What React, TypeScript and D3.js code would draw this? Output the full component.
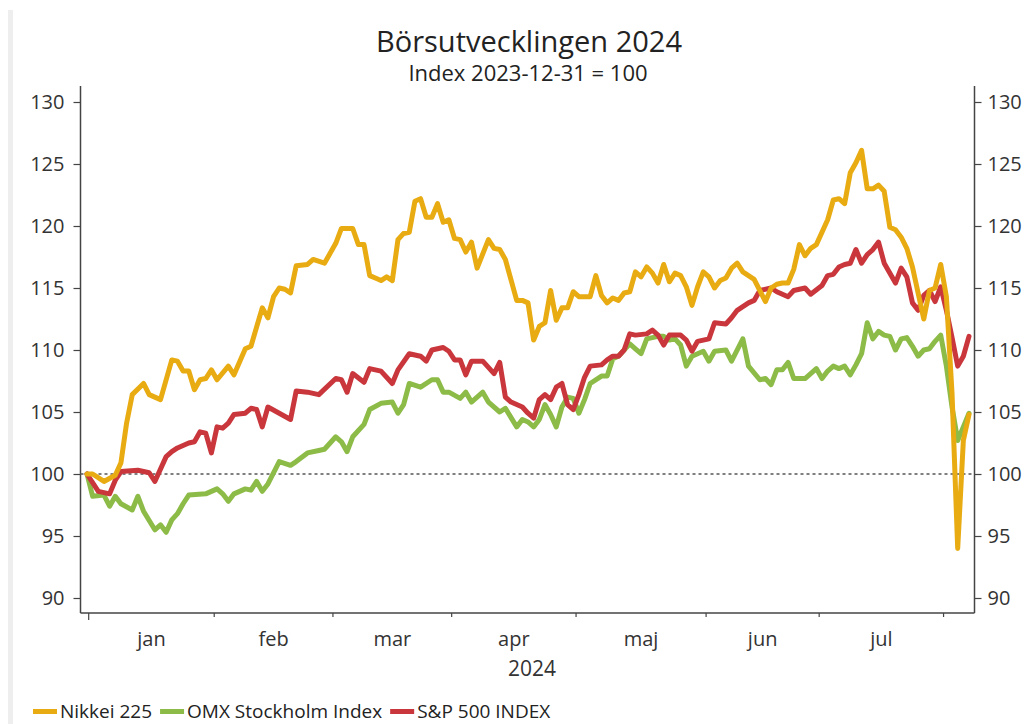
import React, { useEffect, useRef } from "react";
import * as d3 from "d3";

// x = trading day index (weekdays counted from 2 jan 2024)
const monthLabels = ["jan", "feb", "mar", "apr", "maj", "jun", "jul"];
const monthStarts = [0, 23, 44, 65, 87, 110, 130, 152];
const yTicks = [90, 95, 100, 105, 110, 115, 120, 125, 130];

const nikkei: [number, number][] = [
  [0, 100], [1, 100], [3, 99.4], [5, 99.9], [6, 100.9], [7, 104.1], [8, 106.4],
  [10, 107.3], [11, 106.4], [13, 106.0], [15, 109.2], [16, 109.1], [17, 108.3],
  [18, 108.3], [19, 106.8], [20, 107.6], [21, 107.7], [22, 108.4], [23, 107.6],
  [25, 108.7], [26, 108.0], [28, 110.1], [29, 110.3], [31, 113.4], [32, 112.6],
  [33, 114.3], [34, 115.0], [35, 114.9], [36, 114.6], [37, 116.8], [39, 116.9],
  [40, 117.3], [42, 117.0], [44, 118.6], [45, 119.8], [47, 119.8], [48, 118.5],
  [49, 118.5], [50, 116.0], [51, 115.8], [52, 115.6], [53, 115.9], [54, 115.6],
  [55, 118.9], [56, 119.4], [57, 119.5], [58, 122.0], [59, 122.2], [60, 120.7],
  [61, 120.7], [62, 121.8], [63, 120.3], [64, 120.5], [65, 119.0], [66, 118.9],
  [67, 117.9], [68, 118.7], [69, 116.6], [71, 118.9], [72, 118.2], [73, 118.1],
  [74, 117.3], [76, 114.0], [77, 114.0], [78, 113.8], [79, 110.8], [80, 111.9],
  [81, 112.2], [82, 114.8], [83, 112.4], [84, 113.4], [85, 113.4], [86, 114.7],
  [87, 114.3], [89, 114.3], [90, 116.0], [91, 114.4], [92, 113.8], [93, 114.2],
  [94, 114.0], [95, 114.6], [96, 114.7], [97, 116.3], [98, 115.9], [99, 116.7],
  [100, 116.2], [101, 115.4], [102, 116.9], [103, 115.5], [104, 116.2], [105, 116.0],
  [106, 115.1], [107, 113.6], [108, 115.1], [109, 116.3], [110, 115.9], [111, 115.0],
  [112, 115.6], [113, 115.8], [114, 116.6], [115, 117.0], [116, 116.3], [118, 115.7],
  [120, 113.9], [121, 115.0], [122, 115.3], [123, 115.4], [124, 115.4], [125, 116.5],
  [126, 118.5], [127, 117.6], [128, 118.2], [129, 118.5], [131, 120.5], [132, 122.1],
  [133, 122.2], [134, 121.8], [135, 124.3], [136, 125.1], [137, 126.1], [138, 123.0],
  [139, 123.0], [140, 123.3], [141, 122.8], [142, 119.9], [143, 119.7], [144, 119.1],
  [145, 118.2], [146, 116.7], [147, 114.6], [148, 112.5], [149, 114.8], [150, 115.0],
  [151, 116.9], [152, 114.3], [153, 106.5], [154, 94.0], [155, 102.7], [156, 104.8],
];

const omx: [number, number][] = [
  [0, 100], [1, 98.2], [3, 98.3], [4, 97.4], [5, 98.2], [6, 97.6], [8, 97.1],
  [9, 98.2], [10, 97.0], [12, 95.5], [13, 95.9], [14, 95.3], [15, 96.3], [16, 96.8],
  [17, 97.6], [18, 98.3], [21, 98.4], [23, 98.8], [24, 98.4], [25, 97.8], [26, 98.4],
  [28, 98.8], [29, 98.7], [30, 99.4], [31, 98.6], [32, 99.2], [34, 101.0], [36, 100.7],
  [37, 101.0], [39, 101.7], [41, 101.9], [42, 102.0], [44, 103.0], [45, 102.6],
  [46, 101.8], [47, 103.0], [49, 104.0], [50, 105.2], [52, 105.7], [54, 105.8],
  [55, 104.9], [56, 105.6], [57, 107.3], [59, 107.0], [61, 107.6], [62, 107.6],
  [63, 106.6], [64, 106.6], [66, 106.1], [67, 106.6], [68, 105.8], [70, 106.6],
  [71, 105.8], [73, 105.0], [74, 105.3], [76, 103.8], [77, 104.4], [78, 104.2],
  [79, 103.8], [80, 104.4], [81, 105.6], [82, 104.8], [83, 103.8], [84, 105.4],
  [85, 106.2], [86, 106.1], [87, 104.9], [88, 106.0], [89, 107.3], [91, 107.9],
  [92, 107.9], [93, 109.3], [94, 109.5], [95, 110.0], [96, 110.5], [97, 110.1],
  [98, 109.7], [99, 110.9], [101, 111.1], [102, 111.1], [103, 110.8], [104, 110.9],
  [105, 110.4], [106, 108.7], [107, 109.5], [109, 109.9], [110, 109.1], [111, 109.9],
  [113, 110.0], [114, 109.1], [116, 110.9], [117, 108.7], [119, 107.6], [120, 107.7],
  [121, 107.2], [122, 108.4], [123, 108.4], [124, 109.0], [125, 107.7], [127, 107.7],
  [129, 108.5], [130, 107.7], [131, 108.3], [132, 108.7], [133, 108.5], [134, 108.7],
  [135, 108.0], [136, 108.8], [137, 109.7], [138, 112.2], [139, 110.9], [140, 111.5],
  [141, 111.2], [142, 111.1], [143, 110.0], [144, 110.9], [145, 111.0], [146, 110.3],
  [147, 109.5], [148, 110.0], [149, 110.1], [150, 110.7], [151, 111.2], [152, 108.7],
  [153, 105.4], [154, 102.7], [155, 103.8], [156, 104.9],
];

const sp500: [number, number][] = [
  [0, 100], [2, 98.6], [4, 98.4], [5, 99.5], [6, 100.2], [9, 100.3], [11, 100.1],
  [12, 99.4], [14, 101.4], [15, 101.8], [16, 102.1], [18, 102.5], [19, 102.6],
  [20, 103.4], [21, 103.3], [22, 101.7], [23, 103.8], [24, 103.7], [25, 104.1],
  [26, 104.8], [28, 104.9], [29, 105.3], [30, 105.2], [31, 103.8], [32, 105.4],
  [34, 104.9], [36, 104.4], [37, 106.7], [39, 106.6], [40, 106.5], [41, 106.4],
  [44, 107.7], [45, 107.6], [46, 106.6], [47, 108.1], [49, 107.4], [50, 108.5],
  [52, 108.3], [54, 107.3], [55, 108.4], [57, 109.7], [59, 109.5], [60, 109.1],
  [61, 110.0], [63, 110.2], [64, 109.9], [65, 109.2], [66, 109.2], [67, 108.0],
  [68, 109.1], [70, 109.1], [72, 108.1], [73, 109.0], [74, 106.2], [75, 105.8],
  [77, 105.4], [78, 104.9], [79, 104.5], [80, 106.0], [81, 106.4], [82, 106.0],
  [83, 107.0], [84, 107.3], [85, 105.6], [86, 105.2], [87, 106.4], [88, 107.8],
  [89, 108.7], [91, 108.8], [92, 109.2], [93, 109.5], [94, 109.5], [95, 110.0],
  [96, 111.3], [97, 111.2], [99, 111.3], [100, 111.6], [101, 111.2], [102, 110.4],
  [103, 111.2], [105, 111.2], [106, 110.8], [107, 109.9], [108, 110.7], [110, 110.9],
  [111, 112.2], [113, 112.1], [114, 112.6], [115, 113.2], [117, 113.8], [118, 114.0],
  [119, 114.8], [121, 115.0], [122, 114.7], [124, 114.3], [125, 114.8], [127, 115.0],
  [128, 114.5], [130, 115.2], [131, 116.0], [132, 116.1], [133, 116.7], [134, 116.9],
  [135, 117.0], [136, 118.1], [137, 117.0], [138, 117.7], [139, 118.1], [140, 118.7],
  [141, 117.0], [143, 115.4], [144, 116.6], [145, 115.9], [146, 113.8], [147, 113.2],
  [148, 114.4], [149, 114.8], [150, 113.9], [151, 115.1], [152, 113.2], [153, 111.0],
  [154, 108.7], [155, 109.5], [156, 111.1],
];

const series = [
  { name: "Nikkei 225", data: nikkei, color: "#e8ab12" },
  { name: "OMX Stockholm Index", data: omx, color: "#8dbb47" },
  { name: "S&P 500 INDEX", data: sp500, color: "#c9363c" },
];

const App = () => {
  const ref = useRef<SVGSVGElement>(null);

  useEffect(() => {
    const svg = d3.select(ref.current);
    svg.selectAll("*").remove();

    const font = "'Open Sans', 'Noto Sans', sans-serif";
    const axisColor = "#444";
    const textColor = "#333";

    const x = d3.scaleLinear().domain([0, 156]).range([87, 969]);
    const y = d3.scaleLinear().domain([90, 130]).range([598, 102]);
    const left = 80.5;
    const right = 974.5;
    const bottom = 613;
    const top = 86;

    // light bar at the page edge
    svg.append("rect").attr("x", 8).attr("y", 10).attr("width", 5).attr("height", 714).attr("fill", "#eeeeee");

    // title
    svg.append("text")
      .attr("x", 529).attr("y", 52)
      .attr("text-anchor", "middle")
      .attr("font-family", font).attr("font-size", 29)
      .attr("fill", "#222")
      .text("Börsutvecklingen 2024");
    svg.append("text")
      .attr("x", 528).attr("y", 81)
      .attr("text-anchor", "middle")
      .attr("font-family", font).attr("font-size", 22)
      .attr("fill", "#222")
      .text("Index 2023-12-31 = 100");

    // left axis
    const gl = svg.append("g").attr("transform", `translate(${left},0)`)
      .call(d3.axisLeft(y).tickValues(yTicks).tickSize(7).tickSizeOuter(0).tickPadding(9));
    gl.select(".domain").remove();
    gl.selectAll("line").attr("stroke", axisColor).attr("stroke-width", 1.2);
    gl.selectAll("text").attr("font-family", font).attr("font-size", 20).attr("fill", textColor);

    // right axis
    const gr = svg.append("g").attr("transform", `translate(${right},0)`)
      .call(d3.axisRight(y).tickValues(yTicks).tickSize(7).tickSizeOuter(0).tickPadding(6));
    gr.select(".domain").remove();
    gr.selectAll("line").attr("stroke", axisColor).attr("stroke-width", 1.2);
    gr.selectAll("text").attr("font-family", font).attr("font-size", 20).attr("fill", textColor);

    // frame lines
    svg.append("line").attr("x1", left).attr("x2", left).attr("y1", top).attr("y2", bottom)
      .attr("stroke", axisColor).attr("stroke-width", 1.5);
    svg.append("line").attr("x1", right).attr("x2", right).attr("y1", top).attr("y2", bottom)
      .attr("stroke", axisColor).attr("stroke-width", 1.5);
    svg.append("line").attr("x1", left).attr("x2", right).attr("y1", bottom).attr("y2", bottom)
      .attr("stroke", axisColor).attr("stroke-width", 1.5);

    // month ticks on the boundaries, labels in between
    const tickPos = monthStarts.map((m, i) => x(i === 0 ? 0.3 : m - 0.5));
    svg.append("g").selectAll("line").data(tickPos).join("line")
      .attr("x1", (d) => d).attr("x2", (d) => d)
      .attr("y1", bottom).attr("y2", (d, i) => bottom + (i === 0 ? 7 : 4))
      .attr("stroke", axisColor).attr("stroke-width", 1.2);
    svg.append("g").selectAll("text").data(monthLabels).join("text")
      .attr("x", (d, i) => (tickPos[i] + tickPos[i + 1]) / 2)
      .attr("y", 646)
      .attr("text-anchor", "middle")
      .attr("font-family", font).attr("font-size", 20).attr("fill", textColor)
      .text((d) => d);
    svg.append("text")
      .attr("x", 532).attr("y", 676)
      .attr("text-anchor", "middle")
      .attr("font-family", font).attr("font-size", 21).attr("fill", textColor)
      .text("2024");

    // 100 reference line
    svg.append("line")
      .attr("x1", left).attr("x2", right)
      .attr("y1", y(100)).attr("y2", y(100))
      .attr("stroke", "#555").attr("stroke-width", 1.5)
      .attr("stroke-dasharray", "3,3");

    const line = d3.line<[number, number]>()
      .x((d) => x(d[0]))
      .y((d) => y(d[1]));

    // draw green first, then red, then yellow on top
    [series[1], series[2], series[0]].forEach((s) => {
      svg.append("path")
        .datum(s.data)
        .attr("fill", "none")
        .attr("stroke", s.color)
        .attr("stroke-width", 5)
        .attr("stroke-linejoin", "round")
        .attr("stroke-linecap", "round")
        .attr("d", line);
    });

    // legend, laid out left to right
    const lg = svg.append("g");
    let cx = 33;
    series.forEach((s) => {
      lg.append("rect")
        .attr("x", cx).attr("y", 709)
        .attr("width", 24).attr("height", 5)
        .attr("fill", s.color);
      const t = lg.append("text")
        .attr("x", cx + 27).attr("y", 718)
        .attr("font-family", font).attr("font-size", 19).attr("fill", "#222")
        .text(s.name);
      const w = (t.node() as SVGTextElement).getComputedTextLength();
      cx += 27 + w + 8;
    });
  }, []);

  return (
    <svg
      ref={ref}
      width={1028}
      height={724}
      style={{ position: "absolute", left: 0, top: 0, background: "#fff" }}
    />
  );
};

export default App;
